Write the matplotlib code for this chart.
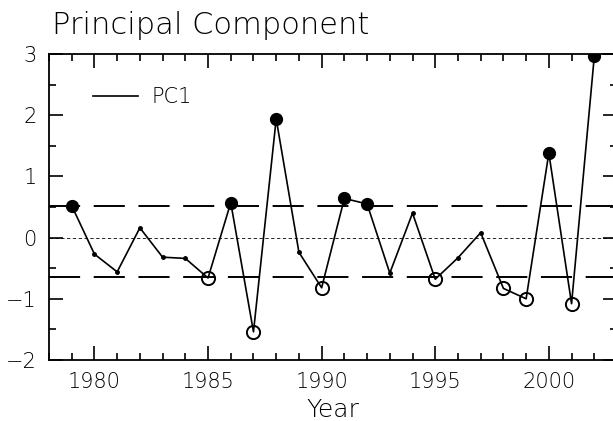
import matplotlib
matplotlib.use("Agg")
import matplotlib.pyplot as plt
import numpy as np
from matplotlib.ticker import MultipleLocator

years = list(range(1979, 2003))
pc1 = [0.52, -0.27, -0.56, 0.16, -0.32, -0.34, -0.66, 0.57, -1.54, 1.94,
       -0.24, -0.82, 0.64, 0.55, -0.58, 0.40, -0.68, -0.33, 0.08, -0.83,
       -1.00, 1.38, -1.08, 2.96]
upper_threshold = 0.52
lower_threshold = -0.65

plt.rcParams['font.family'] = ['DejaVu Sans']
plt.rcParams['font.weight'] = 'light'
plt.rcParams['axes.labelweight'] = 'light'

fig = plt.figure(figsize=(6.13, 4.21), dpi=100)
ax = fig.add_axes([49 / 613, 61 / 421, 568 / 613, 306 / 421])

yrs = np.array(years)
vals = np.array(pc1)

ax.plot(yrs, vals, color='black', lw=1.2, zorder=3, label='PC1')

hi = vals >= upper_threshold
lo = vals <= lower_threshold
mid = ~(hi | lo)
ax.plot(yrs[mid], vals[mid], 'o', color='black', ms=2.5, zorder=4)
ax.plot(yrs[hi], vals[hi], 'o', color='black', ms=8.5, zorder=4)
ax.plot(yrs[lo], vals[lo], 'o', mfc='none', mec='black', mew=1.4, ms=9.5, zorder=4)

ax.axhline(upper_threshold, color='black', lw=1.4, dashes=(16, 7), zorder=2)
ax.axhline(lower_threshold, color='black', lw=1.4, dashes=(16, 7), zorder=2)
ax.axhline(0, color='black', lw=0.6, dashes=(4, 3), zorder=2)

ax.set_xlim(1978, 2003)
ax.set_ylim(-2, 3)
ax.xaxis.set_major_locator(MultipleLocator(5))
ax.xaxis.set_minor_locator(MultipleLocator(1))
ax.yaxis.set_major_locator(MultipleLocator(1))
ax.yaxis.set_minor_locator(MultipleLocator(0.5))
ax.tick_params(which='both', direction='in', top=True, right=True,
               width=1.2, labelsize=15, colors='black')
ax.tick_params(which='major', length=10, pad=9)
ax.tick_params(which='minor', length=5)
for s in ax.spines.values():
    s.set_linewidth(1.3)

ax.set_xlabel('Year', fontsize=18, fontweight='light', labelpad=4)

leg = ax.legend(loc='center left', bbox_to_anchor=(44 / 568, 263 / 306),
                frameon=False, fontsize=15, handlelength=2.15,
                handletextpad=0.65, borderaxespad=0.0, borderpad=0.0)
leg.legend_handles[0].set_linewidth(1.2)

fig.text(52 / 613, (421 - 34) / 421, 'Principal Component', fontsize=22,
         fontweight='light', va='baseline', ha='left')

fig.savefig('out.png', dpi=100)
